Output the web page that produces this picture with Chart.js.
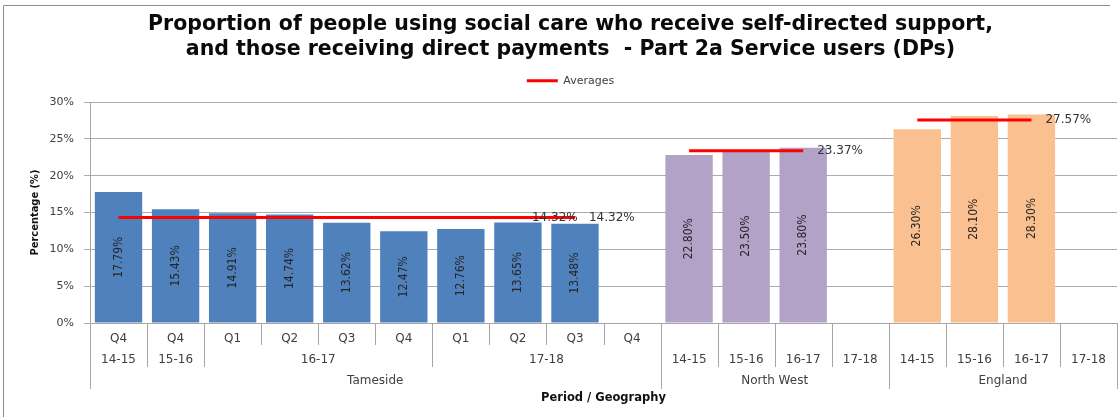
<!DOCTYPE html>
<html>
<head>
<meta charset="utf-8">
<script src="https://cdn.jsdelivr.net/npm/chart.js@4.4.1/dist/chart.umd.min.js"></script>
<style>
  html, body { margin: 0; padding: 0; background: #ffffff; }
  #wrap { width: 1120px; height: 417px; position: relative; }
</style>
</head>
<body>
<div id="wrap"><canvas id="chart"></canvas></div>
<script>
// Category rows of the x axis (one entry per slot)
const quarters = ['Q4', 'Q4', 'Q1', 'Q2', 'Q3', 'Q4', 'Q1', 'Q2', 'Q3', 'Q4', '', '', '', '', '', '', '', ''];
const years = ['14-15', '15-16', '16-17', '16-17', '16-17', '16-17', '17-18', '17-18', '17-18', '17-18',
  '14-15', '15-16', '16-17', '17-18', '14-15', '15-16', '16-17', '17-18'];
const geographies = ['Tameside', 'Tameside', 'Tameside', 'Tameside', 'Tameside', 'Tameside', 'Tameside',
  'Tameside', 'Tameside', 'Tameside', 'North West', 'North West', 'North West', 'North West',
  'England', 'England', 'England', 'England'];

// Values (%)
const tamesideValues = [17.79, 15.43, 14.91, 14.74, 13.62, 12.47, 12.76, 13.65, 13.48, null];
const northWestValues = [22.80, 23.50, 23.80, null];
const englandValues = [26.30, 28.10, 28.30, null];
const averageValues = [14.32, 14.32, 14.32, 14.32, 14.32, 14.32, 14.32, 14.32, 14.32, null,
  23.37, 23.37, 23.37, null, 27.57, 27.57, 27.57, null];
const averageLabelSlots = [7, 8, 12, 16];
const yTicks = [0, 5, 10, 15, 20, 25, 30];

const blanks = n => new Array(n).fill(null);
const tamesideData = tamesideValues.concat(blanks(8));
const northWestData = blanks(10).concat(northWestValues, blanks(4));
const englandData = blanks(14).concat(englandValues);

Chart.defaults.font.family = '"DejaVu Sans", Verdana, sans-serif';
const narrowFont = '"Liberation Sans Narrow", "DejaVu Sans Condensed", "Arial Narrow", sans-serif';

// white background + chart frame (cropped at right/bottom like the source)
const framePlugin = {
  id: 'frame',
  beforeDraw(chart) {
    const ctx = chart.ctx;
    ctx.save();
    ctx.fillStyle = '#ffffff';
    ctx.fillRect(0, 0, chart.width, chart.height);
    ctx.strokeStyle = '#8c8c8c';
    ctx.lineWidth = 1;
    ctx.beginPath();
    ctx.moveTo(3.5, chart.height);
    ctx.lineTo(3.5, 5.5);
    ctx.lineTo(1110, 5.5);
    ctx.stroke();
    ctx.restore();
  }
};

// rotated value labels inside the bars + labels for the averages
const valueLabels = {
  id: 'valueLabels',
  afterDatasetsDraw(chart) {
    const ctx = chart.ctx;
    ctx.save();
    [1, 2, 3].forEach(di => {
      const ds = chart.data.datasets[di];
      chart.getDatasetMeta(di).data.forEach((bar, i) => {
        const v = ds.data[i];
        if (v === null || v === undefined) return;
        const { x, y, base } = bar.getProps(['x', 'y', 'base'], true);
        ctx.save();
        ctx.translate(x, (y + base) / 2);
        ctx.rotate(-Math.PI / 2);
        ctx.font = '12px ' + narrowFont;
        ctx.fillStyle = '#262626';
        ctx.textAlign = 'center';
        ctx.textBaseline = 'middle';
        ctx.fillText(v.toFixed(2) + '%', 0, 0);
        ctx.restore();
      });
    });
    const avgMeta = chart.getDatasetMeta(0);
    ctx.font = '12px "DejaVu Sans", Verdana, sans-serif';
    ctx.fillStyle = '#333333';
    ctx.textAlign = 'left';
    ctx.textBaseline = 'middle';
    averageLabelSlots.forEach(i => {
      const pt = avgMeta.data[i];
      ctx.fillText(averageValues[i].toFixed(2) + '%', pt.x + 14, pt.y);
    });
    ctx.restore();
  }
};

// multi level category axis (quarter / year / geography)
function runs(keys) {
  const out = [];
  keys.forEach((k, i) => {
    const last = out[out.length - 1];
    if (last && last.key === k) last.end = i;
    else out.push({ key: k, start: i, end: i });
  });
  return out;
}

const multiLevelAxis = {
  id: 'multiLevelAxis',
  afterDraw(chart) {
    const ctx = chart.ctx;
    const xs = chart.scales.x;
    const bottom = chart.chartArea.bottom;
    const edge = i => xs.getPixelForValue(i - 0.5);
    const n = quarters.length;
    ctx.save();
    ctx.strokeStyle = '#a6a6a6';
    ctx.lineWidth = 1;
    for (let b = 0; b <= n; b++) {
      let depth;
      if (b === 0 || b === n || geographies[b] !== geographies[b - 1]) depth = 66;
      else if (years[b] !== years[b - 1]) depth = 44;
      else depth = 22;
      const x = Math.round(edge(b)) + 0.5;
      ctx.beginPath();
      ctx.moveTo(x, bottom);
      ctx.lineTo(x, bottom + depth);
      ctx.stroke();
    }
    ctx.fillStyle = '#404040';
    ctx.font = '12px "DejaVu Sans", Verdana, sans-serif';
    ctx.textAlign = 'center';
    ctx.textBaseline = 'middle';
    quarters.forEach((q, i) => {
      if (q) ctx.fillText(q, xs.getPixelForValue(i), bottom + 15.5);
    });
    runs(years.map((y, i) => geographies[i] + '|' + y)).forEach(r => {
      ctx.fillText(years[r.start], (edge(r.start) + edge(r.end + 1)) / 2, bottom + 37);
    });
    runs(geographies).forEach(r => {
      ctx.fillText(r.key, (edge(r.start) + edge(r.end + 1)) / 2, bottom + 58);
    });
    ctx.restore();
  }
};

new Chart(document.getElementById('chart'), {
  type: 'bar',
  data: {
    labels: quarters.map((q, i) => [q, years[i], geographies[i]]),
    datasets: [
      {
        type: 'line',
        label: 'Averages',
        data: averageValues,
        borderColor: '#ff0000',
        backgroundColor: '#ff0000',
        borderWidth: 3,
        pointRadius: 0,
        spanGaps: false,
        order: 0
      },
      { label: 'Tameside', data: tamesideData, backgroundColor: '#4f81bd', order: 1 },
      { label: 'North West', data: northWestData, backgroundColor: '#b3a2c7', order: 1 },
      { label: 'England', data: englandData, backgroundColor: '#fac090', order: 1 }
    ]
  },
  options: {
    responsive: true,
    maintainAspectRatio: false,
    animation: false,
    layout: { padding: { left: 24, right: 3, top: 0, bottom: 0 } },
    datasets: {
      bar: { grouped: false, barPercentage: 0.83, categoryPercentage: 1 }
    },
    plugins: {
      title: {
        display: true,
        text: ['Proportion of people using social care who receive self-directed support,',
          'and those receiving direct payments  - Part 2a Service users (DPs)'],
        color: '#0a0a0a',
        font: { size: 20.5, weight: 'bold', lineHeight: '25px' },
        padding: { top: 12.5, bottom: 6.7 }
      },
      legend: {
        position: 'top',
        labels: {
          color: '#404040',
          font: { size: 11 },
          boxWidth: 31,
          boxHeight: 3,
          padding: 6,
          generateLabels: chart => Chart.defaults.plugins.legend.labels.generateLabels(chart)
            .filter(l => l.text === 'Averages')
            .map(l => Object.assign(l, { lineWidth: 0, fillStyle: '#ff0000' }))
        }
      },
      // thin spacer between legend and plot area
      subtitle: {
        display: true,
        text: '',
        weight: 500,
        font: { size: 1, lineHeight: 1 },
        padding: { top: 4.8, bottom: 0 }
      },
      tooltip: { enabled: false }
    },
    scales: {
      x: {
        ticks: { display: false },
        grid: { display: false },
        border: { color: '#a6a6a6' },
        title: {
          display: true,
          text: 'Period / Geography',
          color: '#111111',
          font: { size: 11.5, weight: 'bold' },
          padding: { top: 0, bottom: 12.1 }
        },
        afterFit: s => { s.height = 94; }
      },
      y: {
        min: 0,
        max: 30,
        afterBuildTicks: s => { s.ticks = yTicks.map(v => ({ value: v })); },
        ticks: {
          color: '#404040',
          font: { size: 11 },
          padding: 10,
          callback: v => v + '%'
        },
        grid: { color: '#ababab', tickLength: 6 },
        border: { color: '#a6a6a6' },
        title: {
          display: true,
          text: 'Percentage (%)',
          color: '#111111',
          font: { family: narrowFont, size: 11, weight: 'bold' },
          padding: { top: 4.4, bottom: 0 }
        },
        afterFit: s => { s.width = 66; }
      }
    }
  },
  plugins: [framePlugin, valueLabels, multiLevelAxis]
});
</script>
</body>
</html>
